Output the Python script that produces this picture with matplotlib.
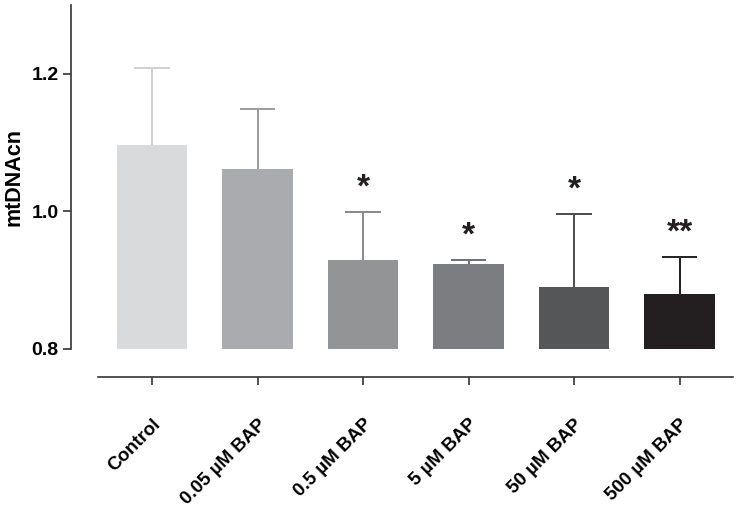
import numpy as np
import matplotlib
matplotlib.use("Agg")
import matplotlib.pyplot as plt
from matplotlib.transforms import ScaledTranslation

plt.rcParams['font.family'] = ['Liberation Sans', 'DejaVu Sans']

groups = ['Control', '0.05 µM BAP', '0.5 µM BAP', '5 µM BAP', '50 µM BAP', '500 µM BAP']
means = [1.096, 1.061, 0.929, 0.923, 0.890, 0.880]
upper = [1.209, 1.149, 0.999, 0.929, 0.996, 0.933]
stars = ['', '', '*', '*', '*', '**']

bar_colors = ['#d9dadc', '#aaabaf', '#939496', '#7c7d80', '#555658', '#231f20']
err_colors = ['#cfd0d2', '#9a9b9f', '#87888a', '#6e6f72', '#4a4b4d', '#231f20']

base = 0.8
x = np.arange(len(groups))
cap = 0.17

fig = plt.figure(figsize=(7.38, 5.15), dpi=100)
ax = fig.add_axes([71 / 738, 1 - 377 / 515, (737 - 71) / 738, (377 - 5) / 515])

ax.bar(x, np.array(means) - base, bottom=base, width=0.67, color=bar_colors, edgecolor='none', zorder=2)
# only the upper half of each error bar
ax.vlines(x, means, upper, colors=err_colors, linewidth=1.4, zorder=1)
ax.hlines(upper, x - cap, x + cap, colors=err_colors, linewidth=1.4, zorder=1)
for i in range(len(groups)):
    if stars[i]:
        ax.text(x[i], upper[i] + 0.035, stars[i], ha='center', va='center',
                fontsize=24, fontweight='bold', color='#231f20')

ax.set_ylim(0.759, 1.3)
ax.set_xlim(-0.768, 5.545)
ax.spines['top'].set_visible(False)
ax.spines['right'].set_visible(False)
ax.spines['left'].set_bounds(0.8, 1.3)
ax.spines['bottom'].set_bounds(-0.51, 5.51)
for s in ['left', 'bottom']:
    ax.spines[s].set_color('#333333')
    ax.spines[s].set_linewidth(1.2)

ax.set_yticks([0.8, 1.0, 1.2])
ax.set_yticklabels(['0.8', '1.0', '1.2'], fontsize=14, fontweight='bold')
ax.set_xticks(x)
ax.set_xticklabels(groups, fontsize=13.5, fontweight='bold', rotation=45,
                   ha='right', rotation_mode='anchor')
shift = ScaledTranslation(-6 / 72, 0, fig.dpi_scale_trans)
for lab in ax.get_xticklabels():
    lab.set_transform(lab.get_transform() + shift)
ax.tick_params(axis='both', color='#333333', width=1.2, length=6, pad=3)
ax.tick_params(axis='x', pad=22)
ax.set_ylabel('mtDNAcn', fontsize=15.5, fontweight='bold')
ax.yaxis.set_label_coords(-0.07, 0.5376)

fig.savefig('out.png', dpi=100)
